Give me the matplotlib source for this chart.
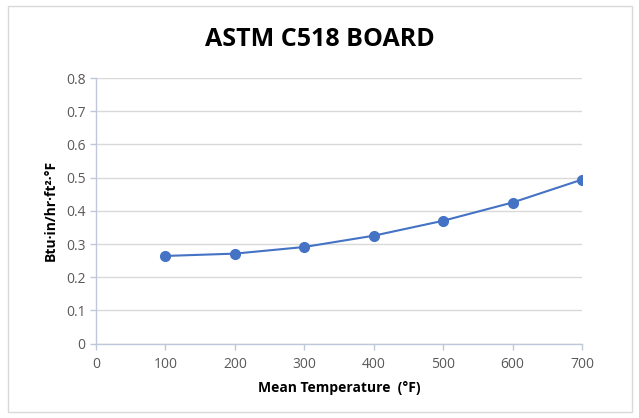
import matplotlib
matplotlib.use("Agg")
import matplotlib.pyplot as plt
from matplotlib.patches import Rectangle

temps = [100, 200, 300, 400, 500, 600, 700]
k_values = [0.264, 0.271, 0.291, 0.325, 0.370, 0.425, 0.494]
x_ticks = [0, 100, 200, 300, 400, 500, 600, 700]
y_ticks = [0, 0.1, 0.2, 0.3, 0.4, 0.5, 0.6, 0.7, 0.8]

plt.rcParams['font.family'] = ['Open Sans', 'DejaVu Sans']

fig = plt.figure(figsize=(6.39, 4.18), dpi=100)
fig.patch.set_facecolor('white')
fig.patches.append(Rectangle((8/639, 6/418), 624/639, 406/418, transform=fig.transFigure,
                             fill=False, edgecolor='#d9d9d9', linewidth=1.0))
ax = fig.add_axes([96/639, 1-343.6/418, 486/639, (343.6-78)/418])

ax.plot(temps, k_values, color='#4472C4', linewidth=1.5, marker='o', markersize=7,
        markerfacecolor='#4472C4', markeredgecolor='#4472C4', zorder=3)

ax.set_xlim(0, 700)
ax.set_ylim(0, 0.8)
ax.set_xticks(x_ticks)
ax.set_yticks(y_ticks)
ax.set_xticklabels([str(t) for t in x_ticks])
ax.set_yticklabels(['0'] + [f'{v:.1f}' for v in y_ticks[1:]])
ax.yaxis.grid(True, color='#d9d9d9', linewidth=1)
ax.set_axisbelow(True)
for s in ['top', 'right']:
    ax.spines[s].set_visible(False)
for s in ['left', 'bottom']:
    ax.spines[s].set_color('#bfc8d9')
    ax.spines[s].set_linewidth(1)
ax.tick_params(axis='both', colors='#bfc8d9', labelcolor='#595959', labelsize=10, length=4, width=1, direction='out')
ax.tick_params(axis='x', pad=6)

ax.set_xlabel('Mean Temperature  (°F)', fontsize=10, fontweight='bold', color='#000000', labelpad=6)
ax.set_ylabel('Btu·in/hr·ft²·°F', fontsize=10, fontweight='bold', color='#000000', labelpad=6)
fig.text(0.5, 1-40/418, 'ASTM C518 BOARD', ha='center', va='center', fontsize=18, fontweight='bold', color='#000000')

fig.savefig('out.png', dpi=100)
